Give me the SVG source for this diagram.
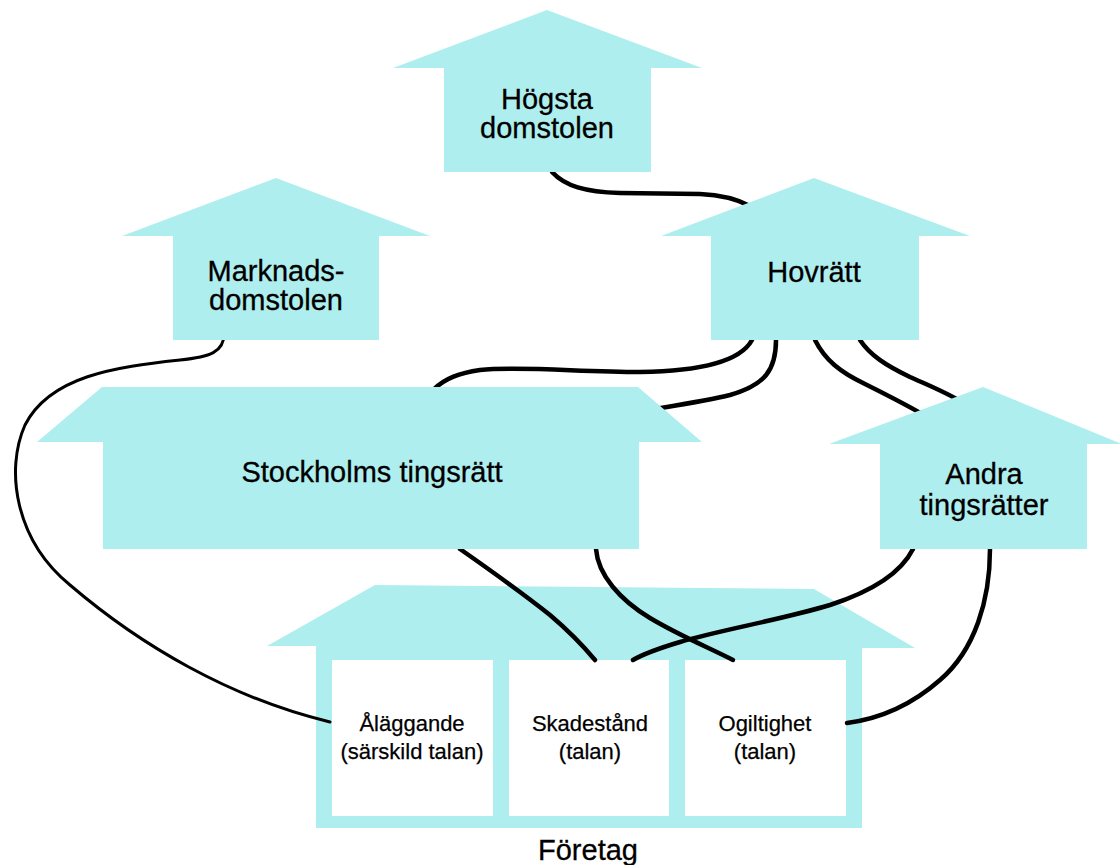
<svg xmlns="http://www.w3.org/2000/svg" width="1120" height="865" viewBox="0 0 1120 865">
<style>
.n{fill:#AFEEEE;stroke:none}
.b{fill:#FFFFFF;stroke:none}
.t{font-family:"Liberation Sans",Arial,sans-serif;font-size:29px;fill:#000;stroke:#000;stroke-width:0.3;text-anchor:middle}
.s{font-family:"Liberation Sans",Arial,sans-serif;font-size:22px;fill:#000;stroke:#000;stroke-width:0.25;text-anchor:middle}
.c{fill:none;stroke:#000;stroke-width:4.5;stroke-linecap:round}
</style>
<rect width="1120" height="865" fill="#FFFFFF"/>
<g id="foretag">
<polygon class="n" points="375,585 814,589 915,648 862,648 862,828 316,828 316,646 267,646"/>
<rect class="b" x="332" y="660" width="161" height="156"/>
<rect class="b" x="509" y="660" width="160" height="156"/>
<rect class="b" x="685" y="660" width="161" height="156"/>
<text class="s" x="412" y="731">Åläggande</text>
<text class="s" x="412" y="759">(särskild talan)</text>
<text class="s" x="590" y="731">Skadestånd</text>
<text class="s" x="590" y="759">(talan)</text>
<text class="s" x="765" y="731">Ogiltighet</text>
<text class="s" x="765" y="759">(talan)</text>
<text class="t" x="588" y="860">Företag</text>
</g>
<g id="connectors">
<path class="c" d="M552,172 C565,186 585,192 620,193 L700,194 C722,195 737,199 750,206"/>
<path class="c" style="stroke-width:3" d="M224,334 C224,352 210,357 180,360 C115,367 50,376 25,425 C5,470 15,540 70,585 C140,645 230,698 330,722"/>
<path class="c" d="M752,340 C740,362 700,371 640,372 C580,372 520,366 480,370 C460,373 445,378 433,390"/>
<path class="c" d="M776,340 C776,370 765,385 730,395 C710,400 685,404 655,409"/>
<path class="c" d="M815,340 C825,360 840,372 865,384 C885,394 905,404 922,414"/>
<path class="c" d="M860,340 C870,355 885,365 910,377 C930,386 945,392 960,401"/>
<path class="c" d="M460,549 C490,570 525,595 550,615 C570,632 585,648 595,660"/>
<path class="c" d="M596,549 C598,575 620,600 650,618 C680,636 710,648 733,660"/>
<path class="c" d="M913,549 C900,575 870,592 830,605 C780,620 720,630 680,642 C660,648 645,653 633,660"/>
<path class="c" d="M990,549 C990,600 975,650 940,680 C915,702 885,718 847,723"/>
</g>
<g id="hogsta">
<polygon class="n" points="547,10 702,68 651,68 651,172 444,172 444,68 393,68"/>
<text class="t" x="547" y="109">Högsta</text>
<text class="t" x="547" y="138">domstolen</text>
</g>
<g id="marknad">
<polygon class="n" points="276,178 430,236 379,236 379,340 173,340 173,236 122,236"/>
<text class="t" x="276" y="281">Marknads-</text>
<text class="t" x="276" y="310">domstolen</text>
</g>
<g id="hovratt">
<polygon class="n" points="814,178 970,236 919,236 919,340 711,340 711,236 661,236"/>
<text class="t" x="814" y="282">Hovrätt</text>
</g>
<g id="stockholm">
<polygon class="n" points="102,387 638,387 702,442 639,442 639,549 103,549 103,442 37,442"/>
<text class="t" x="372" y="482">Stockholms tingsrätt</text>
</g>
<g id="andra">
<polygon class="n" points="983,387 1122,444 1087,444 1087,549 880,549 880,444 829,444"/>
<text class="t" x="984" y="484">Andra</text>
<text class="t" x="984" y="515">tingsrätter</text>
</g>
</svg>
